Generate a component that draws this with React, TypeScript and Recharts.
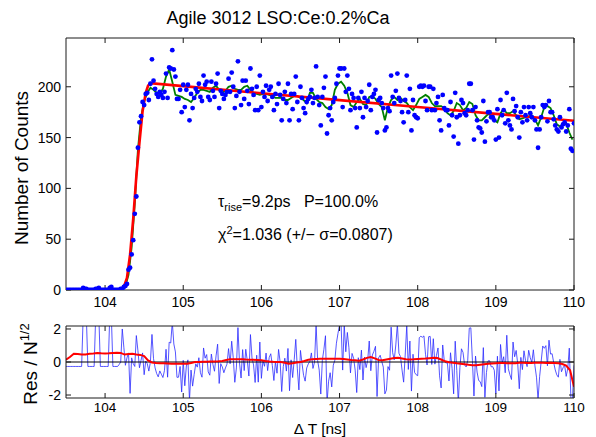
import React from 'react';
import { ComposedChart, XAxis, YAxis, Scatter, Line } from 'recharts';

// ---------- data ----------
const T0 = 103.5; // first sample time [ns]
const DT = 0.02; // sample spacing [ns]
const counts = [
  0,0,0,0,0,0,0,0,0,0,
  0,2,1,1,0,0,0,0,0,1,
  1,2,0,0,0,0,0,0,2,3,
  0,0,0,0,0,1,1,3,4,6,
  20,22,35,49,75,92,140,165,171,185,
  182,193,194,187,203,227,206,198,193,190,
  195,192,189,195,213,189,219,218,236,217,
  210,188,188,197,175,202,180,197,202,167,
  193,179,189,198,195,203,190,186,211,202,
  205,190,187,205,196,190,203,213,179,196,
  193,188,192,195,208,195,214,200,179,191,
  225,195,182,206,188,206,196,183,218,198,
  192,177,200,177,211,180,195,190,201,186,
  197,200,190,177,193,183,203,192,167,188,
  195,184,203,167,193,178,193,210,185,167,
  200,189,179,174,185,188,190,197,184,189,
  220,190,182,162,190,199,210,154,172,179,
  167,185,189,203,211,218,218,180,218,195,
  211,198,177,193,189,179,160,189,179,195,
  170,189,180,186,202,177,190,193,197,155,
  187,189,184,179,157,160,179,176,211,190,
  184,196,213,189,186,175,165,187,211,175,
  198,157,187,172,170,169,200,201,200,201,
  186,177,200,200,177,198,177,184,190,167,
  157,192,179,177,177,162,185,172,151,194,
  170,144,172,187,184,174,172,177,203,203,
  177,148,180,167,160,159,155,186,146,166,
  175,175,170,170,167,148,178,150,187,172,
  177,164,194,167,162,158,188,176,181,170,
  150,175,165,180,172,167,180,174,170,180,
  167,158,140,158,170,182,180,182,166,186,
  175,175,168,162,158,156,170,160,163,165,
  156,162,178,139,137,164,
];

const residuals = [
  -0.27,-0.27,-0.27,-0.27,-0.27,-0.27,-0.27,-0.27,-0.27,-0.27,
  -0.27,2.8,2.8,2.8,-0.27,-0.27,-0.27,-0.27,-0.27,2.8,
  2.8,2.8,-0.27,-0.27,-0.27,-0.27,-0.27,-0.27,2.8,2.8,
  -0.27,-0.27,-0.27,-0.27,-0.15,0.0,2.0,0.9,-0.2,0.25,
  0.55,-1.9,0.25,-0.1,-0.27,1.6,0.7,-0.35,0.1,0.55,
  -0.77,0.05,-0.1,-0.55,0.0,1.67,0.2,-0.36,-0.7,-0.9,
  -0.54,-0.74,-0.94,-0.51,0.77,-0.92,1.2,1.15,2.42,1.09,
  0.61,-0.93,-0.92,-0.27,-1.82,0.1,-1.44,-0.24,0.13,-2.33,
  -0.49,-1.46,-0.75,-0.11,-0.31,0.26,-0.65,-0.92,0.85,0.23,
  0.45,-0.6,-0.8,0.48,-0.15,-0.56,0.37,1.08,-1.3,-0.1,
  -0.3,-0.65,-0.36,-0.13,0.81,-0.11,1.26,0.26,-1.23,-0.36,
  2.08,-0.05,-0.97,0.75,-0.52,0.77,0.06,-0.85,1.66,0.24,
  -0.18,-1.24,0.41,-1.22,1.21,-0.99,0.09,-0.26,0.54,-0.52,
  0.27,0.5,-0.21,-1.12,0.03,-0.68,0.76,-0.01,-1.79,-0.28,
  0.23,-0.55,0.82,-1.74,0.13,-0.94,0.14,1.37,-0.41,-1.69,
  0.7,-0.09,-0.81,-1.16,-0.36,-0.12,0.03,0.55,-0.39,-0.01,
  2.25,0.08,-0.49,-1.94,0.11,0.77,1.59,-2.48,-1.16,-0.65,
  -1.51,-0.19,0.11,1.14,1.73,2.25,2.26,-0.49,2.28,0.62,
  1.79,0.86,-0.66,0.52,0.23,-0.49,-1.85,0.26,-0.46,0.72,
  -1.09,0.3,-0.34,0.1,1.27,-0.53,0.42,0.65,0.95,-2.09,
  0.25,0.41,0.04,-0.31,-1.93,-1.7,-0.28,-0.5,2.11,0.56,
  0.13,1.03,2.3,0.53,0.32,-0.49,-1.22,0.42,2.21,-0.45,
  1.27,-1.76,0.47,-0.63,-0.77,-0.83,1.47,1.56,1.5,1.58,
  0.47,-0.18,1.53,1.55,-0.15,1.41,-0.13,0.4,0.85,-0.84,
  -1.57,1.03,0.08,-0.06,-0.05,-1.15,0.56,-0.39,-1.93,1.26,
  -0.51,-2.47,-0.35,0.8,0.58,-0.17,-0.3,0.08,2.05,2.07,
  0.11,-2.06,0.36,-0.61,-1.12,-1.19,-1.49,0.87,-2.14,-0.63,
  0.07,0.08,-0.29,-0.28,-0.5,-1.92,0.35,-1.75,1.06,-0.07,
  0.32,-0.65,1.62,-0.41,-0.77,-1.06,1.21,0.32,0.7,-0.11,
  -1.62,0.28,-0.46,0.68,0.09,-0.28,0.71,0.27,-0.02,0.74,
  -0.23,-0.92,-2.29,-0.89,0.04,0.97,0.83,0.99,-0.23,1.32,
  0.48,0.5,-0.03,-0.48,-0.78,-0.92,0.16,-0.59,-0.35,-0.19,
  -0.87,-0.4,0.84,-2.15,-2.29,-0.2,
];

// smoothed data (green), sampled every 0.04 ns from 103.5
const SMOOTH_DT = 0.04;
const smoothed = [
  0,0,0,0,0,0,0,0,0,0,
  0,0,0,0,0,0,0,0,1,4,
  15,42,85,138,170,186,194,199,197,194,
  193,198,210,217,205,192,191,190,188,187,
  185,189,194,197,197,196,195,199,201,197,
  194,196,200,201,198,197,197,200,201,197,
  194,193,192,193,193,192,191,189,189,189,
  187,187,189,191,191,189,187,184,194,194,
  188,185,184,180,178,182,197,203,205,201,
  194,182,180,185,188,183,182,190,191,188,
  183,180,167,180,187,190,187,189,186,184,
  180,177,182,188,190,192,190,184,181,181,
  181,179,174,172,176,184,182,177,179,185,
  183,172,167,167,170,173,172,167,165,174,
  178,174,174,176,172,168,169,170,171,172,
  168,162,170,180,181,179,172,163,161,163,
  164,155,148,
];

// fitted model (red)
const fitT = [103.5, 104.2, 104.24, 104.28, 104.32, 104.36, 104.4, 104.44, 104.48, 104.52, 104.55, 104.58, 105, 106, 107, 108, 109, 110];
const fitV = [0, 0, 3, 12, 35, 70, 112, 145, 176, 194, 201, 203.5, 200.6, 193.7, 186.9, 180.1, 173.3, 166.5];

// smoothed residuals (red, lower panel), every 0.05 ns from 103.5
const RES_DT = 0.05;
const resSmooth = [
  0.14,0.3,0.5,0.48,0.45,0.46,0.5,0.52,0.55,0.53,
  0.52,0.53,0.55,0.56,0.55,0.45,0.48,0.5,0.46,0.43,
  0.36,0.1,-0.03,-0.06,-0.07,-0.08,-0.09,-0.1,-0.1,-0.1,
  -0.1,-0.1,-0.06,0,0,0.01,0.02,0.03,0.03,0.04,
  0.06,0.12,0.16,0.17,0.17,0.17,0.15,0.14,0.13,0.12,
  0.1,0.06,0.03,0.01,0,0,-0.05,-0.1,-0.08,-0.03,
  0,0.06,0.13,0.16,0.18,0.19,0.2,0.2,0.2,0.2,
  0.2,0.18,0.15,0.12,0.1,0.08,0.15,0.25,0.3,0.22,
  0.12,0.1,0.15,0.2,0.24,0.25,0.21,0.17,0.15,0.16,
  0.18,0.2,0.21,0.23,0.25,0.24,0.15,0.04,-0.02,-0.05,
  -0.08,-0.1,-0.13,-0.17,-0.2,-0.19,-0.16,-0.13,-0.11,-0.09,
  -0.07,-0.06,-0.06,-0.07,-0.08,-0.07,-0.05,-0.05,-0.06,-0.06,
  -0.05,-0.04,-0.05,-0.06,-0.05,-0.06,-0.08,-0.12,-0.22,-0.5,
  -1.5,
];

const xTicks = [104, 105, 106, 107, 108, 109, 110];
const yTicksTop = [0, 50, 100, 150, 200];
const yTicksRes = [-2, 0, 2];
const xRange = [103.5, 110];

// ---------- tables built from the arrays ----------
const scatterData = counts.map((v, i) => ({ t: T0 + i * DT, v }));
const residData = residuals.map((v, i) => ({ t: T0 + i * DT, v }));
const smoothData = smoothed.map((v, i) => ({ t: T0 + i * SMOOTH_DT, v }));
const fitData = fitT.map((t, i) => ({ t, v: fitV[i] }));
const resSmoothData = resSmooth.map((v, i) => ({ t: T0 + i * RES_DT, v }));
const zeroData = xRange.map((t) => ({ t, v: 0 }));

const FONT = '"Liberation Sans", Arial, Helvetica, sans-serif';
const AX = '#1a1a1a';
const tickStyle = { fill: '#000', fontSize: 14, fontFamily: FONT };
const tickStyleSmall = { fill: '#000', fontSize: 13.5, fontFamily: FONT };
const blank = () => '';

const Dot = (p: any) => <circle cx={p.cx} cy={p.cy} r={2.4} fill="#0000ff" />;

export default function App() {
  return (
    <div style={{ position: 'absolute', left: 0, top: 0, width: 596, height: 437, background: '#fff', fontFamily: FONT }}>
      <div style={{ position: 'absolute', left: 0, top: 0 }}>
        <ComposedChart width={596} height={320} margin={{ top: 37, right: 21, bottom: 0, left: 0 }}>
          <XAxis type="number" dataKey="t" domain={xRange} ticks={xTicks} allowDataOverflow height={30}
            tickSize={-5} tickMargin={12} tick={tickStyle} axisLine={{ stroke: AX }} tickLine={{ stroke: AX }} interval={0} />
          <XAxis xAxisId="top" orientation="top" type="number" dataKey="t" domain={xRange} ticks={xTicks} allowDataOverflow height={1}
            tickSize={-5} tickFormatter={blank} axisLine={{ stroke: AX }} tickLine={{ stroke: AX }} interval={0} />
          <YAxis type="number" domain={[0, 248]} ticks={yTicksTop} allowDataOverflow width={66}
            tickSize={-5} tickMargin={10} tick={tickStyle} axisLine={{ stroke: AX }} tickLine={{ stroke: AX }} interval={0} />
          <YAxis yAxisId="right" orientation="right" type="number" domain={[0, 248]} ticks={yTicksTop} allowDataOverflow width={1}
            tickSize={-5} tickFormatter={blank} axisLine={{ stroke: AX }} tickLine={{ stroke: AX }} interval={0} />
          <Line data={zeroData} dataKey="v" xAxisId="top" yAxisId="right" stroke="none" dot={false} isAnimationActive={false} />
          <Scatter data={scatterData} dataKey="v" shape={Dot} isAnimationActive={false} />
          <Line data={smoothData} dataKey="v" type="linear" stroke="#008000" strokeWidth={1.8} dot={false} isAnimationActive={false} />
          <Line data={fitData} dataKey="v" type="linear" stroke="#ff0000" strokeWidth={2.6} dot={false} isAnimationActive={false} />
        </ComposedChart>
      </div>
      <div style={{ position: 'absolute', left: 0, top: 310 }}>
        <ComposedChart width={596} height={127} margin={{ top: 15, right: 21, bottom: 0, left: 0 }}>
          <XAxis type="number" dataKey="t" domain={xRange} ticks={xTicks} allowDataOverflow height={39}
            tickSize={-5} tickMargin={9} tick={tickStyleSmall} axisLine={{ stroke: AX }} tickLine={{ stroke: AX }} interval={0} />
          <XAxis xAxisId="top" orientation="top" type="number" dataKey="t" domain={xRange} ticks={xTicks} allowDataOverflow height={1}
            tickSize={-5} tickFormatter={blank} axisLine={{ stroke: AX }} tickLine={{ stroke: AX }} interval={0} />
          <YAxis type="number" domain={[-2.18, 2.18]} ticks={yTicksRes} allowDataOverflow width={66}
            tickSize={-5} tickMargin={10} tick={tickStyle} axisLine={{ stroke: AX }} tickLine={{ stroke: AX }} interval={0} />
          <YAxis yAxisId="right" orientation="right" type="number" domain={[-2.18, 2.18]} ticks={yTicksRes} allowDataOverflow width={1}
            tickSize={-5} tickFormatter={blank} axisLine={{ stroke: AX }} tickLine={{ stroke: AX }} interval={0} />
          <Line data={zeroData} dataKey="v" xAxisId="top" yAxisId="right" stroke="none" dot={false} isAnimationActive={false} />
          <Line data={residData} dataKey="v" type="linear" stroke="#2b2bff" strokeWidth={0.8} dot={false} isAnimationActive={false} />
          <Line data={zeroData} dataKey="v" type="linear" stroke="#000" strokeWidth={1} dot={false} isAnimationActive={false} />
          <Line data={resSmoothData} dataKey="v" type="linear" stroke="#ff0000" strokeWidth={2} dot={false} isAnimationActive={false} />
        </ComposedChart>
      </div>
      <svg width={596} height={437} style={{ position: 'absolute', left: 0, top: 0, pointerEvents: 'none' }} fontFamily={FONT}>
        <text x={278} y={24} textAnchor="middle" fontSize={18} fill="#000">Agile 3012 LSO:Ce:0.2%Ca</text>
        <text transform="translate(28,168) rotate(-90)" textAnchor="middle" fontSize={19} fill="#000">Number of Counts</text>
        <text transform="translate(37,364) rotate(-90)" textAnchor="middle" fontSize={19} fill="#000">
          Res / N<tspan dy={-8} fontSize={13}>1/2</tspan>
        </text>
        <text x={320} y={433.5} textAnchor="middle" fontSize={15.5} fill="#000">Δ T [ns]</text>
        <text x={218} y={207} fontSize={16} fill="#000" style={{ whiteSpace: 'pre' }}>
          τ<tspan dy={4} fontSize={11}>rise</tspan><tspan dy={-4}>=9.2ps   P=100.0%</tspan>
        </text>
        <text x={218} y={240} fontSize={16} fill="#000" style={{ whiteSpace: 'pre' }}>
          χ<tspan dy={-6} fontSize={11}>2</tspan><tspan dy={6}>=1.036 (+/− σ=0.0807)</tspan>
        </text>
      </svg>
    </div>
  );
}
